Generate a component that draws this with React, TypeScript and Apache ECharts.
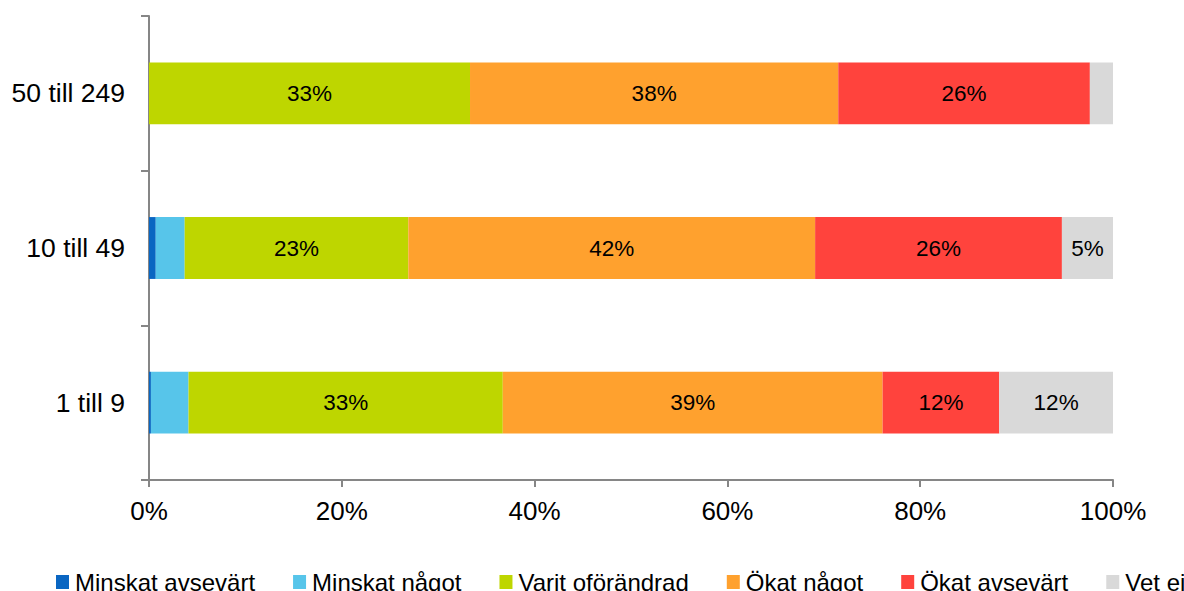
import React, { useEffect, useRef } from "react";
import * as echarts from "echarts";

const categories = ["1 till 9", "10 till 49", "50 till 249"];
const seriesNames = ["Minskat avsevärt", "Minskat något", "Varit oförändrad", "Ökat något", "Ökat avsevärt", "Vet ej"];
const minskatAvsevart = [0.2, 0.7, 0];
const minskatNagot = [3.9, 3.0, 0];
const varitOforandrad = [32.6, 23.2, 33.3];
const okatNagot = [39.4, 42.2, 38.2];
const okatAvsevart = [12.1, 25.6, 26.1];
const vetEj = [11.8, 5.3, 2.4];
const xTicks = [0, 20, 40, 60, 80, 100];
const colors = ["#0A66C2", "#57C5EA", "#BED600", "#FFA12E", "#FF433D", "#D9D9D9"];

const FONT = "'Liberation Sans', Arial, sans-serif";

export default function App() {
  const ref = useRef<HTMLDivElement>(null);
  useEffect(() => {
    document.body.style.margin = "0";
    if (!ref.current) return;
    const chart = echarts.init(ref.current, null, { renderer: "svg" });
    const allData = [minskatAvsevart, minskatNagot, varitOforandrad, okatNagot, okatAvsevart, vetEj];
    chart.setOption({
      animation: false,
      textStyle: { fontFamily: FONT },
      grid: { left: 149, right: 71, top: 16, bottom: 111, containLabel: false },
      legend: {
        left: 56,
        top: 570,
        padding: 0,
        width: 1500,
        itemGap: 38,
        itemWidth: 13,
        itemHeight: 14,
        icon: "rect",
        textStyle: { fontSize: 24, color: "#000", fontFamily: FONT, padding: [0, 0, 0, 1] },
        data: seriesNames,
      },
      xAxis: {
        type: "value",
        min: xTicks[0],
        max: xTicks[xTicks.length - 1],
        interval: 20,
        axisLine: { show: true, lineStyle: { color: "#868686", width: 2 } },
        axisTick: { show: true, length: 7, lineStyle: { color: "#868686", width: 2 } },
        splitLine: { show: false },
        axisLabel: { formatter: "{value}%", fontSize: 26, color: "#000", margin: 18, fontFamily: FONT },
      },
      yAxis: {
        type: "category",
        data: categories,
        axisLine: { show: true, lineStyle: { color: "#868686", width: 2 } },
        axisTick: { show: true, length: 8, lineStyle: { color: "#868686", width: 2 } },
        axisLabel: { fontSize: 26.5, color: "#000", margin: 24, fontFamily: FONT },
      },
      series: seriesNames.map((name, i) => ({
        name,
        type: "bar",
        stack: "total",
        barWidth: "40%",
        itemStyle: { color: colors[i] },
        label: {
          show: true,
          position: "inside",
          color: "#000",
          fontSize: 22.5,
          fontFamily: FONT,
          formatter: (p: any) => (p.value >= 5 ? Math.round(p.value) + "%" : ""),
        },
        data: allData[i],
      })),
    });
    return () => chart.dispose();
  }, []);
  return <div ref={ref} style={{ width: 1184, height: 591 }} />;
}
